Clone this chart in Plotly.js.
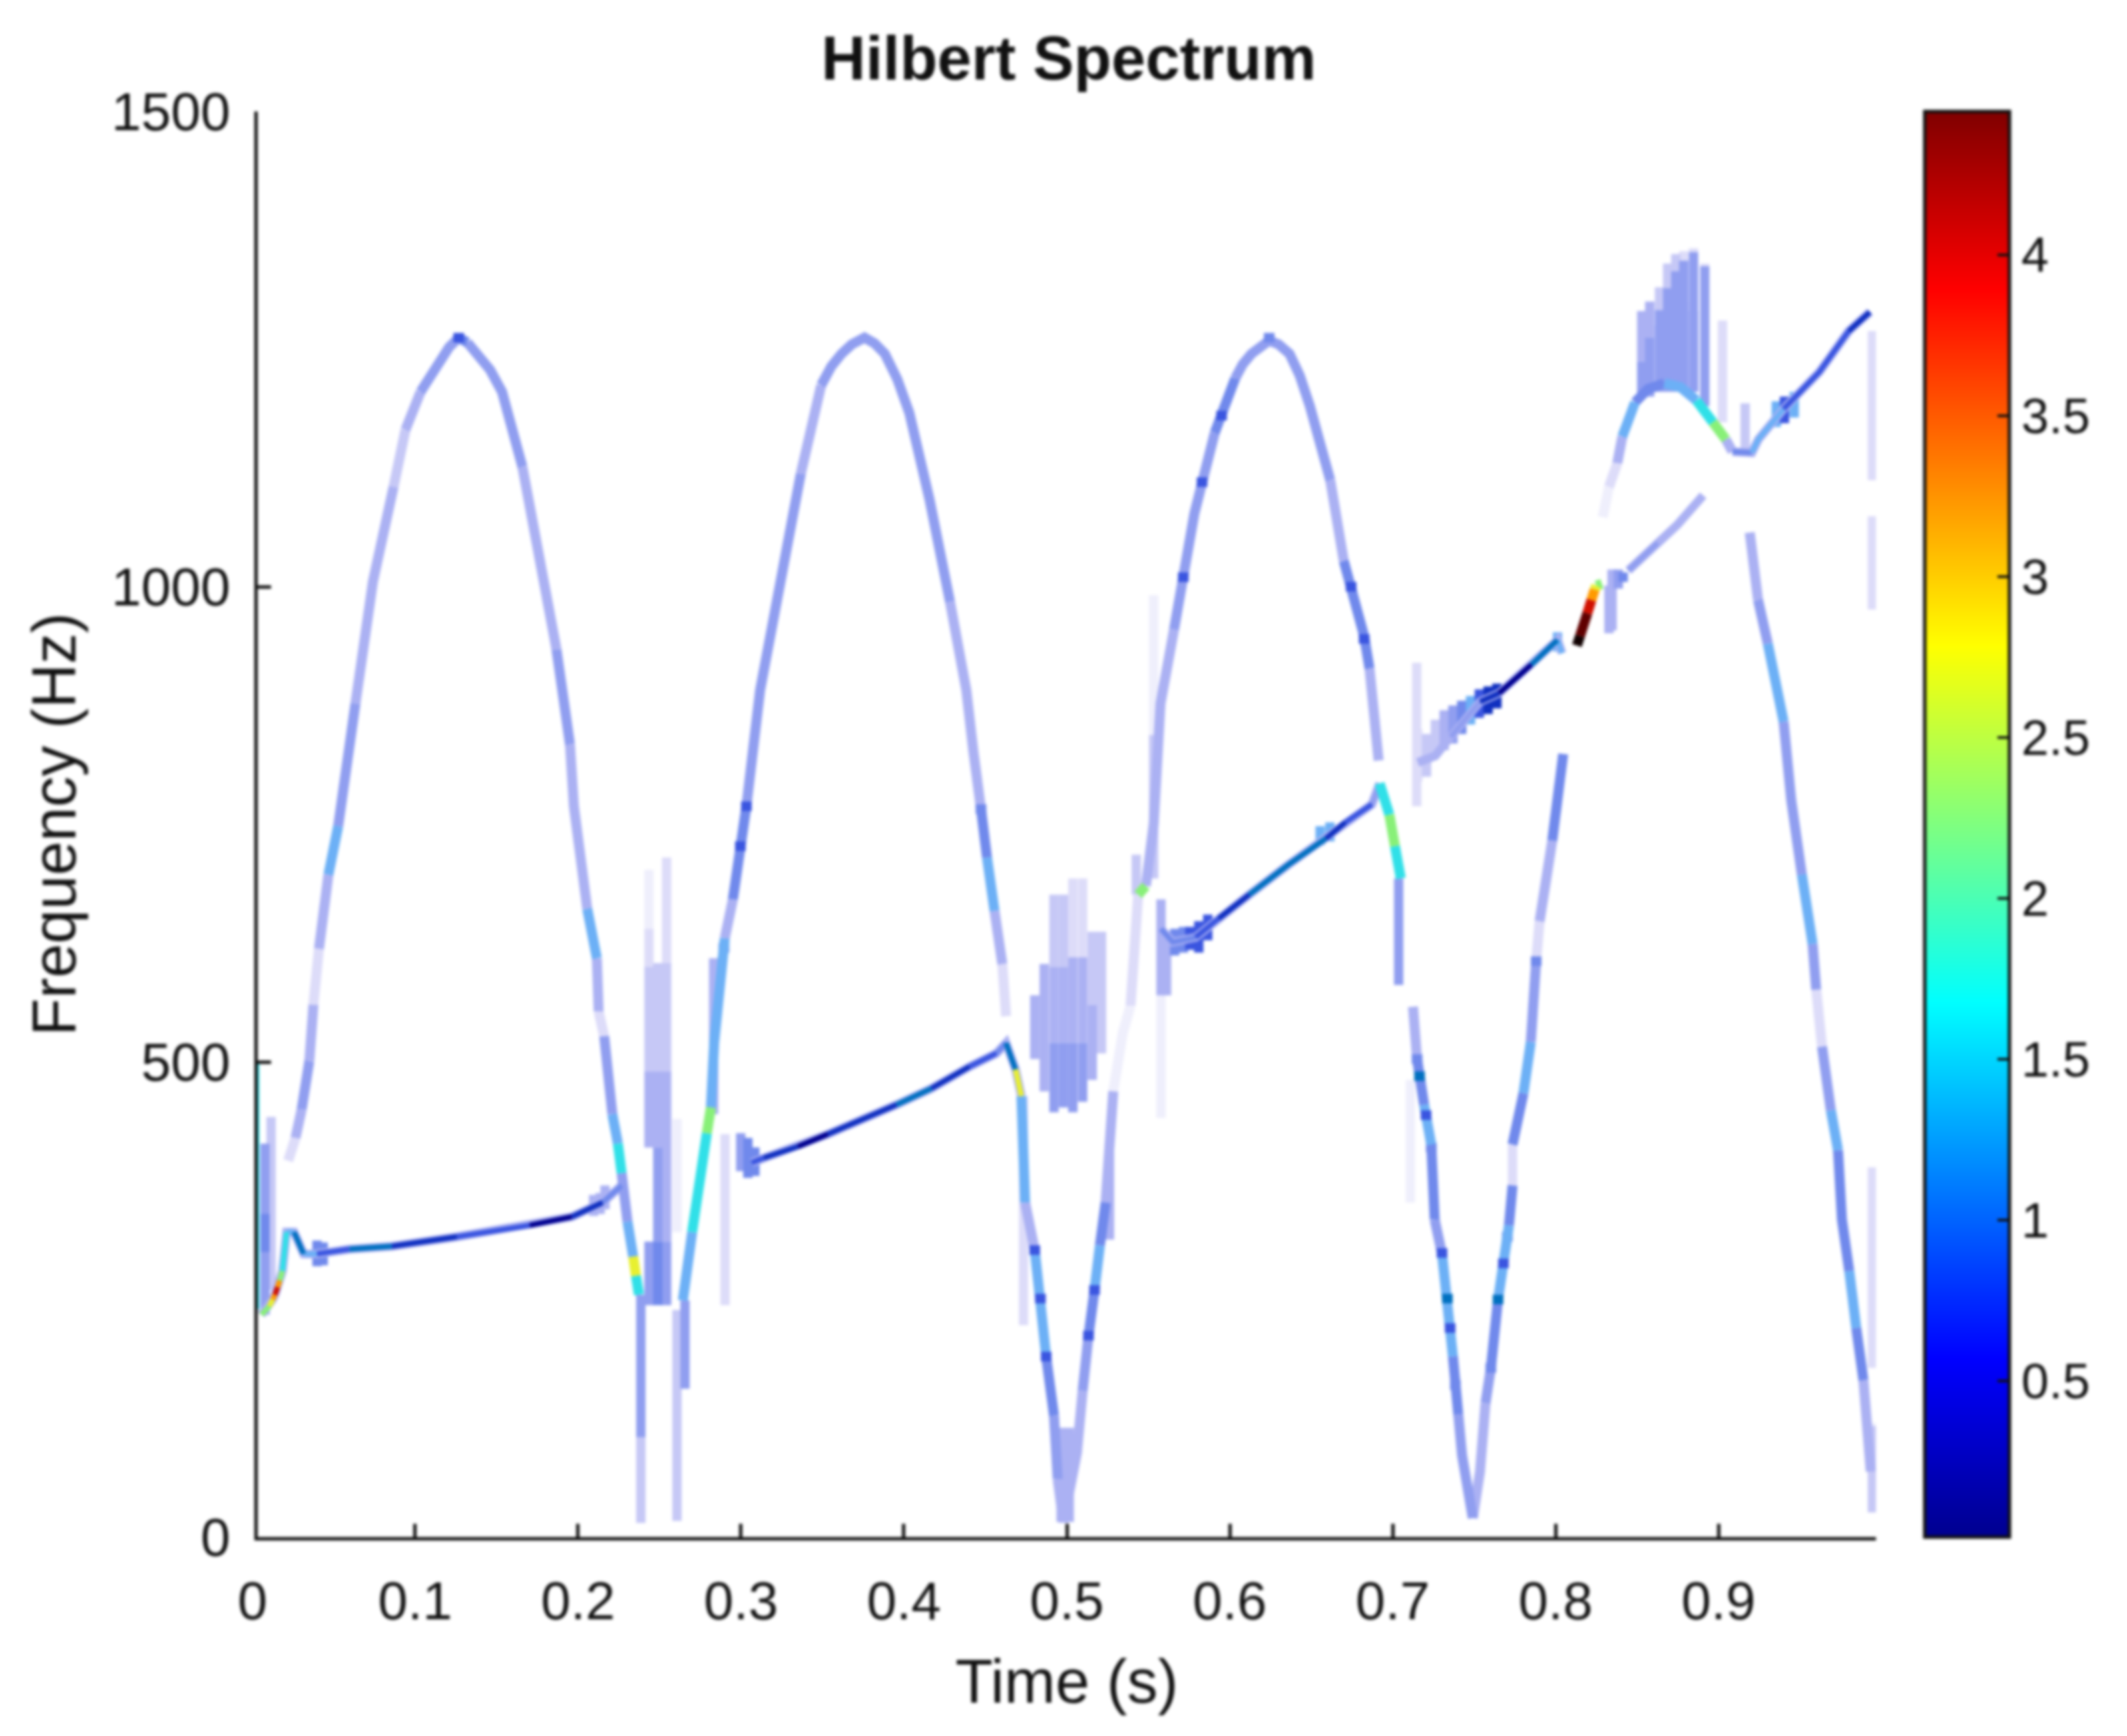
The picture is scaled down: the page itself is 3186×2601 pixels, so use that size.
<!DOCTYPE html>
<html>
<head>
<meta charset="utf-8">
<script src="https://cdn.plot.ly/plotly-3.0.1.min.js"></script>
<style>
html,body{margin:0;padding:0;background:#fff;}
#wrap{width:3186px;height:2601px;filter:blur(2.2px);}
</style>
</head>
<body>
<div id="wrap"><div id="chart"></div></div>
<script>
// ---------- values: time (s), frequency (Hz), ink level ----------
const hump1T=[.022,.0265,.0303,.035,.0375,.0409,.0467,.0527,.0633,.074,.0867,.094,.1033,.11,.1158,.1208,.1267,.132,.1383,.146,.1533,.159,.1658,.1758,.1867,.195,.1974,.2056,.2115,.2126,.216,.221,.2244,.2267];
const hump1F=[396,420,450,501,560,619,697,748,877,1005,1105,1165,1205,1225,1240,1252,1262,1257,1245,1228,1205,1170,1126,1034,934,834,769,661,609,553,527,445,414,383];
const hump1L=[1,3,4,3,1,3,6,4,3,3,2,3,4,4,4,4,5,4,4,4,4,4,3,3,4,3,3,6,3,1,4,6,11,4];

const leg1T=[.2267,.2303,.2338,.2355,.2373];
const leg1F=[383,332,295,275,255];
const leg1L=[4,6,13,11,6];

const rise2T=[.2643,.27,.2762,.279,.2815,.2835,.29,.295,.2996,.3033,.3117,.3242,.3367,.3492,.3555,.3617,.368,.3758,.382,.3883,.396,.4033,.4158,.4283,.4383,.4426,.4473,.451,.4556,.4604,.4627];
const rise2F=[249,321,403,425,452,520,630,671,727,769,891,1005,1119,1212,1232,1245,1255,1262,1256,1245,1218,1183,1091,984,891,827,766,715,659,603,548];
const rise2L=[6,11,11,12,6,6,3,5,5,4,4,4,3,4,4,4,4,4,4,4,4,4,4,3,3,3,5,6,3,1,0];

const leg2T=[.4721,.4744,.4803,.4838,.4873,.4921,.4944,.4979,.5062,.5097,.5133,.517,.5203,.5238,.5262,.5285];
const leg2F=[464,352,302,251,190,128,61,16,89,154,212,260,307,352,413,469];
const leg2L=[6,3,6,6,5,4,3,3,3,4,5,6,5,3,3,11];

const faint3T=[.5285,.5344,.5391,.5414,.5438,.5485];
const faint3F=[469,531,559,626,676,685];
const faint3L=[0,0,1,1,12,12];

const hump3T=[.5485,.5533,.5575,.5658,.5783,.5908,.6033,.608,.6133,.619,.6242,.63,.6367,.643,.6492,.6617,.67,.6825,.6858,.6914];
const hump3F=[685,750,877,955,1077,1162,1219,1234,1245,1254,1259,1255,1245,1222,1190,1112,1027,948,914,817];
const hump3L=[3,3,3,4,4,5,4,4,4,4,4,4,4,4,4,3,5,5,3,2];

const leg3T=[.692,.698,.7014,.705];
const leg3F=[793,760,727,693];
const leg3L=[11,12,11,6];

const fall3T=[.7125,.715,.7193,.7237,.7258,.7303,.7336,.737,.7403,.7426,.7492,.7536,.757,.7603,.7647,.7714,.7736];
const fall3F=[558,503,455,413,334,298,250,190,129,86,20,69,141,178,250,328,370];
const fall3L=[3,5,6,5,4,6,6,5,4,4,3,3,4,5,6,5,1];

const rise4T=[.7736,.7803,.7848,.7881,.7902,.798,.8047];
const rise4F=[413,467,521,606,648,733,824];
const rise4L=[5,6,4,1,3,5,1];

const upperT=[.829,.8328,.8379,.841,.8488,.8568,.8668,.8766,.8865,.8966,.9045,.9086];
const upperF=[1073,1105,1130,1158,1194,1208,1214,1210,1196,1173,1155,1142];
const upperL=[0,1,3,6,5,5,6,6,11,12,3,7];

const lastT=[.9086,.9205,.9245,.94,.962,.98,.993];
const lastF=[1142,1141,1155,1187,1226,1269,1289];
const lastL=[5,6,6,7,7,8,9];

const fall4T=[.9192,.9243,.9303,.94,.9447,.9512,.9578,.96,.9636,.969,.9734,.9758,.9803,.9846,.989,.9935];
const fall4F=[1057,986,940,858,775,697,624,576,516,449,407,334,280,220,165,69];
const fall4L=[3,4,6,4,4,6,4,1,4,6,5,5,6,5,3,1];

const chirp1T=[.0056,.0105,.0125,.0139,.0155,.0168,.0185,.021,.0256,.0315,.0397,.0597,.0856,.1256,.1703,.1961,.215,.2267];
const chirp1F=[234,243,250,255,263,270,280,321,321,298,298,303,306,316,328,337,352,370];
const chirp1L=[12,13,14,15,14,12,11,6,10,6,7,10,8,7,9,8,5,4];

const chirp2T=[.3066,.314,.335,.3533,.3955,.4168,.4402,.4568,.4627,.4685,.4721];
const chirp2F=[394,399,411,424,455,472,495,509,520,492,464];
const chirp2L=[7,8,9,8,10,8,7,5,10,13,11];

const chirp3T=[.5578,.565,.579,.5933,.612,.6356,.659,.671,.6873,.692];
const chirp3F=[640,626,631,651,676,707,735,752,771,793];
const chirp3L=[5,5,7,8,10,10,8,7,4,7];

const chirp4T=[.7154,.7262,.7357,.7537,.7654,.7852,.8012,.804];
const chirp4F=[815,822,842,879,888,918,944,930];
const chirp4L=[2,2,4,8,9,10,6,11];

const chirp5T=[.8131,.815,.8195,.822,.824,.825,.8285];
const chirp5F=[938,948,972,986,997,1001,1003];
const chirp5L=[17,16,15,14,13,12,11];

const chirp6T=[.8447,.8627,.8747,.8906];
const chirp6F=[1017,1046,1065,1096];
const chirp6L=[4,3,1,1];

// vertical smears: time, low Hz, high Hz, ink level
const smearT =[.0078,.0115,.0078,.2435,.2435,.2435,.2435,.2435,.2489,.2489,.2489,.2489,.2543,.2543,.2543,.2543,.2385,.2385,.2607,.2607,.2656,.2832,.2902,.4803,.4861,.4921,.4921,.4921,.4979,.4979,.4979,.5037,.5037,.5037,.5097,.5097,.5097,.5156,.5156,.5213,.4965,.5015,.4734,.5262,.5533,.5533,.5578,.5578,.5612,.5426,.7037,.7109,.7148,.8529,.8578,.8638,.8688,.8738,.8787,.8847,.8916,.8529,.8578,.8638,.8688,.8738,.8787,.8847,.8916,.9025,.9164,.8347,.8328,.8385,.8415,.9945,.9945,.9945,.9945,.9945,
 .0397,.0435,.2095,.2135,.2165,.2998,.3042,.3085,.5755,.581,.5865,.6555,.6615,.7262,.7316,.737,.7424,.7478,.7532,.7586,.764,.8012,.9355,.9405,.9465,.5662,.5716,.7154,.7208,.8638,.8688,.8738,.8787,.8847,.7736];
const smearLo=[234,260,300,640,600,490,410,244,490,410,311,244,604,490,311,244,105,15,321,17,156,445,244,503,469,600,520,447,600,520,452,610,520,447,610,520,458,560,481,509,16,16,223,313,844,693,570,441,570,676,581,352,769,1200,1200,1205,1205,1205,1205,1205,1190,1237,1262,1291,1314,1332,1343,1352,1337,1173,1144,954,951,998,1005,1112,976,178,117,26,
 285,286,338,340,345,385,378,380,618,615,628,728,732,825,828,835,845,855,862,866,872,932,1168,1172,1178,612,615,795,800,1214,1214,1212,1210,1205,370];
const smearHi=[414,442,340,702,640,600,490,311,604,490,410,311,715,604,490,311,255,105,440,239,249,609,424,570,603,676,600,520,676,600,520,693,610,520,693,610,520,637,560,637,115,115,464,413,991,844,671,570,637,718,693,481,920,1237,1262,1291,1314,1332,1343,1352,1337,1290,1300,1315,1340,1350,1353,1356,1340,1280,1193,1018,1001,1018,1015,1269,1074,389,120,117,
 312,310,360,362,370,425,420,410,642,648,655,748,752,860,870,875,880,885,892,895,898,952,1195,1200,1205,640,642,850,845,1275,1285,1295,1300,1290,413];
const smearL =[4,2,5,0,1,2,3,4,2,3,4,5,1,2,3,4,4,2,0,2,4,3,1,3,3,2,3,4,2,3,4,1,3,4,1,3,4,2,3,2,3,3,1,3,0,2,3,0,3,2,4,0,1,4,4,4,4,4,4,4,4,3,3,2,2,2,1,1,1,1,2,3,3,4,5,1,1,1,0,2,
 5,5,3,3,3,4,5,5,7,7,7,6,6,2,3,4,5,6,7,8,8,6,6,7,6,5,5,1,2,4,4,4,4,4,1];

// short darker specks sitting on the curves: time, Hz, ink level
const speckT=[.3033,.4803,.4838,.4873,.5133,.517,.715,.7165,.7205,.7237,.7303,.7336,.7353,.7385,.7603,.7647,.768,.7704,.7881,.5715,.583,.595,.6745,.6825,.2996,.2895,.4473,.1267,.6242];
const speckF=[769,302,251,190,212,260,503,485,444,410,299,251,220,160,178,250,288,316,606,1010,1110,1180,1000,945,727,620,766,1262,1262];
const speckL=[7,7,7,7,7,7,5,10,7,5,7,10,7,5,5,10,7,5,5,7,7,7,7,7,7,5,5,7,5];

// thin cyan stripe on the left edge
const edgeT=[.0035,.0035];
const edgeF=[500,240];
const edgeL=[11,11];

// colour bar limits and tick values
const zMin=0.015, zMax=4.445;
const barTicks=[0.5,1,1.5,2,2.5,3,3.5,4];
const timeTicks=[0.1,0.2,0.3,0.4,0.5,0.6,0.7,0.8,0.9];
const freqTicks=[0,500,1000,1500];

// ---------- styling ----------
const ink=['#efeffc','#dddcf9','#c6c8f6','#abb1f3','#909ef0','#7089ec','#6cb0f6','#3a55e0','#1030c0','#00008f','#0070c0','#30e0e8','#88f078','#e8f030','#ff9a00','#d01000','#600000','#100000'];
const jet=[[0,'rgb(0,0,143)'],[0.125,'rgb(0,0,255)'],[0.375,'rgb(0,255,255)'],[0.625,'rgb(255,255,0)'],[0.875,'rgb(255,0,0)'],[1,'rgb(128,0,0)']];
const fontName='"Liberation Sans", Arial, sans-serif';
const axisInk='#111111';

const smearWidth=14, humpWidth=15, chirpWidth=8, haloWidth=13, speckWidth=16, hotWidth=15;
const linePass=new Map();
function bucket(store,width,level){
  const k=width*100+level;
  if(!store.has(k)) store.set(k,{width,level,x:[],y:[]});
  return store.get(k);
}
function addCurve(T,F,L,width){
  let i=0;
  while(i<T.length-1){
    const lv=L[i], b=bucket(linePass,width,lv);
    let j=i;
    b.x.push(T[j]); b.y.push(F[j]);
    while(j<T.length-1 && (j===i || L[j]===lv)){ j++; b.x.push(T[j]); b.y.push(F[j]); }
    b.x.push(null); b.y.push(null);
    i=j;
  }
}
const smearStore=new Map();
smearT.forEach((t,i)=>{
  const b=bucket(smearStore,smearWidth,smearL[i]);
  b.x.push(t,t,null); b.y.push(smearLo[i],smearHi[i],null);
});
[[hump1T,hump1F,hump1L],[leg1T,leg1F,leg1L],[rise2T,rise2F,rise2L],[leg2T,leg2F,leg2L],[faint3T,faint3F,faint3L],
 [hump3T,hump3F,hump3L],[leg3T,leg3F,leg3L],[fall3T,fall3F,fall3L],[rise4T,rise4F,rise4L],[upperT,upperF,upperL],
 [fall4T,fall4F,fall4L]].forEach(c=>addCurve(c[0],c[1],c[2],humpWidth));
const chirps=[[chirp1T,chirp1F,chirp1L],[chirp2T,chirp2F,chirp2L],[chirp3T,chirp3F,chirp3L],[chirp4T,chirp4F,chirp4L],
 [chirp6T,chirp6F,chirp6L],[lastT,lastF,lastL]];
chirps.forEach(c=>addCurve(c[0],c[1],c[1].map(()=>3),haloWidth));
chirps.forEach(c=>addCurve(c[0],c[1],c[2],chirpWidth));
addCurve(chirp5T,chirp5F,chirp5L,hotWidth);
addCurve(edgeT,edgeF,edgeL,4);
speckT.forEach((t,i)=>{
  const b=bucket(linePass,speckWidth,speckL[i]);
  b.x.push(t,t,null); b.y.push(speckF[i]-5,speckF[i]+5,null);
});

const ordered=[...smearStore.values()].sort((a,b)=>a.level-b.level)
  .concat([...linePass.values()].sort((a,b)=>a.level-b.level));
const traces=ordered.map(g=>({
  type:'scatter',mode:'lines',x:g.x,y:g.y,connectgaps:false,hoverinfo:'skip',showlegend:false,cliponaxis:false,
  line:{color:ink[g.level],width:g.width,shape:'linear'}
}));
traces.push({
  type:'scatter',mode:'markers',x:[0.5,0.5],y:[-200,-200],hoverinfo:'skip',showlegend:false,
  marker:{size:1,color:[zMin,zMax],cmin:zMin,cmax:zMax,colorscale:jet,showscale:true,
    colorbar:{x:(2883-386)/2424,xanchor:'left',xpad:0,ypad:0,y:0,yanchor:'bottom',len:1,lenmode:'fraction',
      thickness:127,thicknessmode:'pixels',outlinewidth:5,outlinecolor:'#111111',
      ticks:'inside',ticklen:20,tickwidth:4,tickcolor:'#111111',tickmode:'array',tickvals:barTicks,
      ticktext:barTicks.map(String),tickprefix:'\u00a0\u00a0',showtickprefix:'all',
      tickfont:{family:fontName,size:74,color:axisInk}}}
});

const axisCommon={showline:true,linecolor:axisInk,linewidth:5,ticks:'inside',ticklen:20,tickwidth:5,tickcolor:axisInk,
  showgrid:false,zeroline:false,mirror:false,tickfont:{family:fontName,size:80,color:axisInk},tickmode:'array'};
const layout={
  width:3186,height:2601,autosize:false,paper_bgcolor:'#fff',plot_bgcolor:'#fff',showlegend:false,
  margin:{l:386,r:376,t:167,b:298,pad:0},
  title:{text:'Hilbert Spectrum',x:0.5025,xanchor:'center',y:1-87/2601,yanchor:'middle',
    font:{family:fontName,size:92,weight:700,color:'#111111'}},
  xaxis:Object.assign({},axisCommon,{range:[.0033,.9967],tickvals:timeTicks,ticktext:timeTicks.map(String),ticklabelstandoff:22,
    title:{text:'Time (s)',standoff:46,font:{family:fontName,size:92,color:axisInk}}}),
  yaxis:Object.assign({},axisCommon,{range:[0,1500],tickvals:freqTicks,ticktext:freqTicks.map(String),ticklabelstandoff:20,
    title:{text:'Frequency (Hz)',standoff:24,font:{family:fontName,size:92,color:axisInk}}}),
  annotations:[{text:'0',xref:'paper',yref:'paper',x:(378-386)/2424,y:-(2398-2303)/2136,xanchor:'center',yanchor:'middle',
    showarrow:false,font:{family:fontName,size:80,color:axisInk}}]
};
Plotly.newPlot('chart',traces,layout,{staticPlot:true,displayModeBar:false});
</script>
</body>
</html>
